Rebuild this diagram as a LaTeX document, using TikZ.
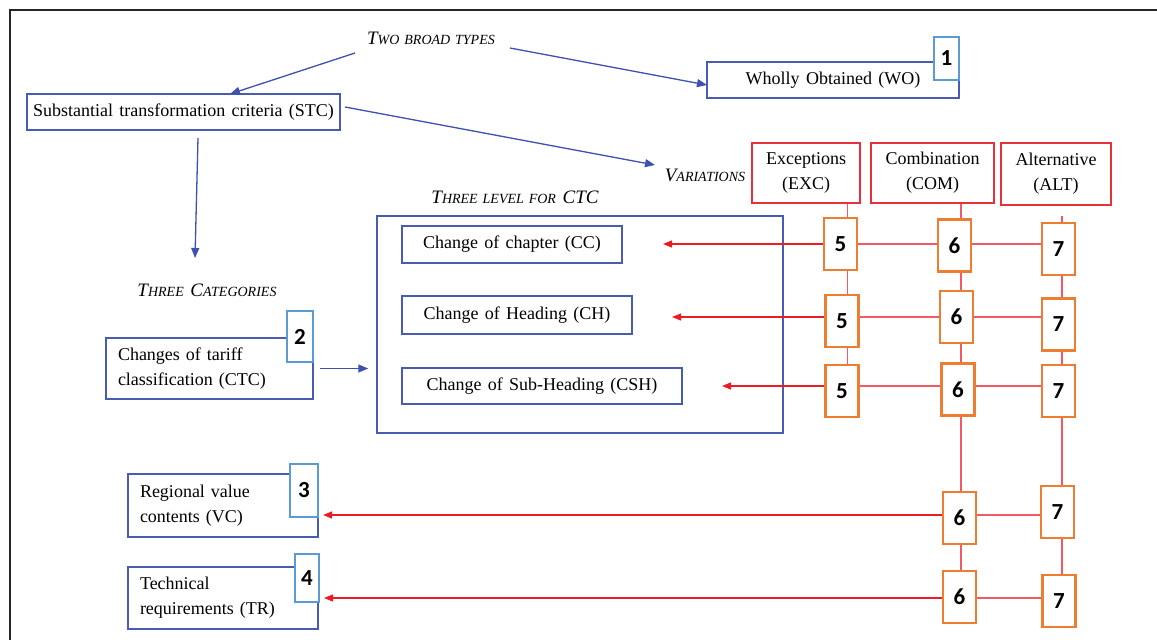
\documentclass[tikz,border=0pt]{standalone}
\usepackage{fontspec}
\setmainfont{Liberation Serif}[WordSpace=1.4]
\newfontfamily\numfont{Carlito}
\usetikzlibrary{arrows.meta}
\definecolor{bluec}{RGB}{72,92,180}
\definecolor{barc}{RGB}{62,80,176}
\definecolor{numc}{RGB}{91,155,213}
\definecolor{redc}{RGB}{232,48,58}
\definecolor{rlinec}{RGB}{240,90,100}
\definecolor{rarrc}{RGB}{236,28,36}
\definecolor{orc}{RGB}{237,125,49}
\newcommand{\fsc}[1]{{\fontsize{14}{16}\selectfont #1}}
\begin{document}
\begin{tikzpicture}[x=1pt,y=-1pt,
  txt/.style={font=\fontsize{18}{25}\selectfont},
  bbox/.style={txt,draw=bluec,line width=1.5pt,fill=white,inner sep=0pt},
  lbox/.style={bbox,align=left},
  numbox/.style={draw=numc,line width=2.6pt,fill=white,inner sep=0pt,font=\numfont\bfseries\fontsize{23}{23}\selectfont},
  rbox/.style={txt,draw=redc,line width=1.3pt,fill=white,inner sep=0pt,align=center},
  obox/.style={draw=orc,line width=2.6pt,fill=white,inner sep=0pt,minimum width=33,minimum height=52,font=\numfont\bfseries\fontsize{23}{23}\selectfont},
  captext/.style={font=\itshape\fontsize{19}{22}\selectfont,inner sep=0pt},
  barrow/.style={draw=barc,line width=1.3pt,-{Triangle[length=10pt,width=8pt]}},
  rarrow/.style={draw=rarrc,line width=1.3pt,-{Triangle[length=9pt,width=7pt]}},
  rline/.style={draw=rlinec,line width=1.3pt}]
\useasboundingbox (0,0) rectangle (1157,640);
% outer frame
\draw[line width=2pt,black!85] (10,640) -- (10,10) -- (1157,10);

% captions
\node[captext] (two) at (431,38) {T\fsc{WO BROAD TYPES}};
\node[captext] (var) at (705,175) {V\fsc{ARIATIONS}};
\node[captext] (three) at (207,290) {T\fsc{HREE} C\fsc{ATEGORIES}};
\node[captext] (lvl) at (515,197) {T\fsc{HREE LEVEL FOR} CTC};

% blue boxes
\node[bbox,minimum width=313,minimum height=36] (stc) at (183.5,112) {Substantial transformation criteria (STC)};
\node[bbox,minimum width=252,minimum height=36] (wo) at (833,80) {Wholly Obtained (WO)};
\node[bbox,minimum width=406,minimum height=217] (big) at (580,324.5) {};
\node[bbox,minimum width=220,minimum height=37] (cc) at (512,244.5) {Change of chapter (CC)};
\node[bbox,minimum width=230,minimum height=38] (ch) at (517,315) {Change of Heading (CH)};
\node[bbox,minimum width=280,minimum height=36] (csh) at (542,386) {Change of Sub-Heading (CSH)};
\node[lbox,text width=183pt,inner xsep=12pt,minimum height=61] (ctc) at (209.5,368.5) {Changes of tariff\\classification (CTC)};
\node[lbox,text width=166pt,inner xsep=12pt,minimum height=63] (vc) at (223,505.5) {Regional value\\contents (VC)};
\node[lbox,text width=166pt,inner xsep=12pt,minimum height=62] (tr) at (223,598) {Technical\\requirements (TR)};

% number boxes
\node[numbox,minimum width=25,minimum height=43] (n1) at (946.5,58.5) {1};
\node[numbox,minimum width=26,minimum height=51] (n2) at (300,336.5) {2};
\node[numbox,minimum width=28,minimum height=53] (n3) at (304,490.5) {3};
\node[numbox,minimum width=24,minimum height=48] (n4) at (307,578) {4};

% red boxes
\node[rbox,minimum width=108,minimum height=60] (exc) at (806,173) {Exceptions\\(EXC)};
\node[rbox,minimum width=123,minimum height=60] (com) at (932.5,173) {Combination\\(COM)};
\node[rbox,minimum width=110,minimum height=62] (alt) at (1056,174) {Alternative\\(ALT)};

% column coordinates and arrow tips
\coordinate (c1) at (847.5,0);
\coordinate (c2) at (961,0);
\coordinate (c3) at (1062,216);
\coordinate (t1) at (663,244);
\coordinate (t2) at (672,317);
\coordinate (t3) at (722,386);
\coordinate (t4) at (323,515);
\coordinate (t5) at (324,598);

% vertical red lines (drawn before orange boxes)
\draw[rline] (exc.south -| c1) -- (847.5,230);
\draw[rline] (847.5,260) -- (847.5,370);
\draw[rline] (com.south -| c2) -- (961,600);
\draw[rline] (c3) -- (1062,600);

% orange boxes
\node[obox] (o51) at (840.5,244) {5};
\node[obox] (o61) at (954.5,245.5) {6};
\node[obox] (o71) at (1058.5,249) {7};
\node[obox] (o52) at (842,321) {5};
\node[obox] (o62) at (956.5,317) {6};
\node[obox] (o72) at (1058.5,324.5) {7};
\node[obox] (o53) at (842,391) {5};
\node[obox] (o63) at (958,389.5) {6};
\node[obox] (o73) at (1058.5,391) {7};
\node[obox] (o64) at (959.5,518) {6};
\node[obox] (o74) at (1057.5,512) {7};
\node[obox] (o65) at (959.5,597) {6};
\node[obox] (o75) at (1059,601) {7};

% horizontal red lines
\draw[rline] (o51.east |- t1) -- (o61.west |- t1);
\draw[rline] (o61.east |- t1) -- (o71.west |- t1);
\draw[rline] (o52.east |- t2) -- (o62.west |- t2);
\draw[rline] (o62.east |- t2) -- (o72.west |- t2);
\draw[rline] (o53.east |- t3) -- (o63.west |- t3);
\draw[rline] (o63.east |- t3) -- (o73.west |- t3);
\draw[rline] (o64.east |- t4) -- (o74.west |- t4);
\draw[rline] (o65.east |- t5) -- (o75.west |- t5);

% red arrows
\draw[rarrow] (o51.west |- t1) -- (t1);
\draw[rarrow] (o52.west |- t2) -- (t2);
\draw[rarrow] (o53.west |- t3) -- (t3);
\draw[rarrow] (o64.west |- t4) -- (t4);
\draw[rarrow] (o65.west |- t5) -- (t5);

% blue arrows
\coordinate (a1s) at (355,53);
\coordinate (a1e) at (230,94);
\coordinate (a2s) at (510,48);
\coordinate (a2e) at (707,85);
\coordinate (a3s) at (345,107);
\coordinate (a3e) at (655,165);
\coordinate (a4s) at (198,138);
\coordinate (a4e) at (195,258);
\draw[barrow] (a1s) -- (a1e);
\draw[barrow] (a2s) -- (a2e);
\draw[barrow] (a3s) -- (a3e);
\draw[barrow] (a4s) -- (a4e);
\draw[barrow] ([xshift=6pt]ctc.east) -- ([xshift=-8pt]big.west |- ctc.east);
\end{tikzpicture}
\end{document}
